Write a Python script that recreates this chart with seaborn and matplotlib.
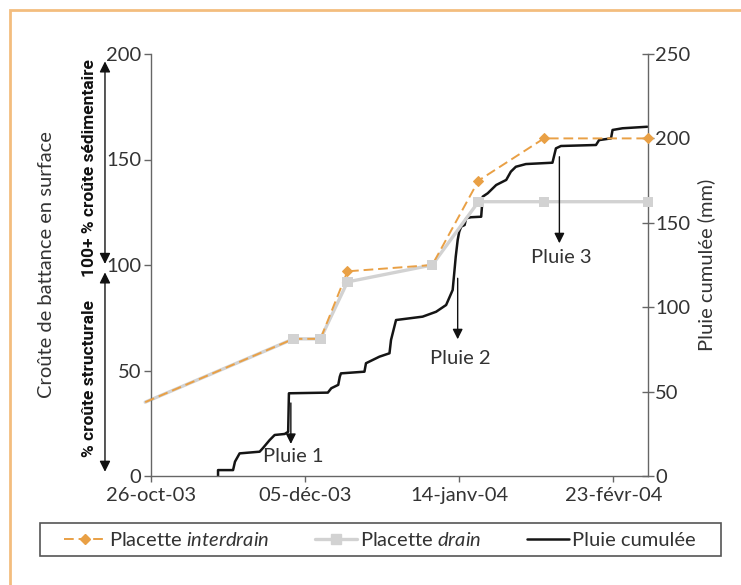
import matplotlib
matplotlib.use("Agg")
import matplotlib.pyplot as plt
import pandas as pd
import seaborn as sns
from matplotlib.lines import Line2D
from matplotlib.patches import Rectangle

# %% DATA (x in days counted from 26-oct-03)
plot_days = [-1.5, 37, 44, 51, 73, 85, 102, 129]
interdrain = [35, 65, 65, 97, 100, 140, 160, 160]
drain = [35, 65, 65, 92, 100, 130, 130, 130]

rain_days = [17.4, 17.4, 21.3, 21.8, 23.0, 28.2, 29.0, 30.8, 32.1, 34.7, 35.6, 35.8,
             45.9, 46.8, 48.6, 49.0, 49.3, 55.4, 55.8, 59.3, 61.9, 62.3, 63.6, 70.5,
             74.0, 76.6, 77.5, 78.3, 78.7, 79.1, 79.6, 80.0, 80.5, 81.4, 81.8, 83.1,
             85.7, 86.1, 87.4, 88.7, 89.6, 92.2, 93.4, 94.7, 97.3, 104.2, 105.1, 106.4,
             115.5, 116.3, 119.4, 119.8, 122.4, 128.8]
rain_mm = [0, 3.5, 3.5, 8.5, 13.4, 14.4, 16.4, 21.3, 24.3, 24.9, 26.2, 49.0,
           49.4, 52.0, 54.0, 58.8, 60.8, 61.8, 66.8, 70.7, 72.7, 80.6, 92.4, 94.4,
           97.3, 101.3, 106.0, 110.2, 120.0, 130.0, 139.8, 144.7, 147.7, 148.7, 152.7, 153.3,
           153.6, 165.5, 167.5, 170.4, 172.4, 175.4, 180.3, 183.2, 184.8, 185.6, 194.1, 195.5,
           196.1, 199.0, 200.0, 205.0, 206.0, 206.9]

tick_days = [0, 40, 80, 120]
tick_labels = ["26-oct-03", "05-déc-03", "14-janv-04", "23-févr-04"]

pluie_labels = ["Pluie 1", "Pluie 2", "Pluie 3"]
pluie_days = [36.3, 79.6, 106.0]

plots = pd.DataFrame({"day": plot_days, "interdrain": interdrain, "drain": drain})
rain = pd.DataFrame({"day": rain_days, "mm": rain_mm})

# %% STYLE
sns.set_style("white")
plt.rcParams["font.family"] = ["Lato", "DejaVu Sans"]
plt.rcParams["mathtext.fontset"] = "custom"
plt.rcParams["mathtext.it"] = "Lato:italic"
plt.rcParams["mathtext.rm"] = "Lato"

ORANGE = "#E9A045"
GREY = "#D2D2D2"
TXT = "#333333"
SPINE = "#666666"
FS = 14.5

fig = plt.figure(figsize=(7.41, 5.85), dpi=100)
ax = fig.add_axes([151 / 741, 1 - 476 / 585, 497 / 741, 422 / 585])
ax2 = ax.twinx()
ax.set_zorder(ax2.get_zorder() + 1)
ax.patch.set_visible(False)

# rain on the right axis
sns.lineplot(data=rain, x="day", y="mm", ax=ax2, color="#151515", lw=1.8,
             sort=False, estimator=None)

# plots on the left axis
sns.lineplot(data=plots, x="day", y="drain", ax=ax, color=GREY, lw=2.4,
             sort=False, estimator=None, clip_on=False, zorder=2)
sns.lineplot(data=plots, x="day", y="interdrain", ax=ax, color=ORANGE, lw=1.4,
             linestyle=(0, (5, 2.5)), marker="D", markersize=5.5, markevery=[3, 5, 6, 7],
             markeredgecolor=ORANGE, sort=False, estimator=None, clip_on=False, zorder=3)
sns.scatterplot(data=plots.iloc[1:], x="day", y="drain", ax=ax, color=GREY, marker="s",
                s=55, edgecolor="none", zorder=4, clip_on=False)

ax.set_xlim(0, 129)
ax.set_ylim(0, 200)
ax2.set_ylim(0, 250)
ax.set_xticks(tick_days)
ax.set_xticklabels(tick_labels)
ax.set_yticks(range(0, 201, 50))
ax2.set_yticks(range(0, 251, 50))

for a in (ax, ax2):
    for s in a.spines.values():
        s.set_color(SPINE)
        s.set_linewidth(1.0)
    a.spines["top"].set_visible(False)
ax.spines["right"].set_visible(False)
ax2.spines["left"].set_visible(False)
ax2.spines["bottom"].set_visible(False)

ax.tick_params(axis="y", direction="out", length=5, width=1, color=SPINE, pad=2,
               labelsize=FS, labelcolor=TXT, left=True)
ax.tick_params(axis="x", direction="out", length=4, width=1, color=SPINE, pad=4,
               labelsize=FS, labelcolor=TXT, bottom=True)
ax2.tick_params(axis="y", direction="inout", length=8, width=1, color=SPINE, pad=1,
                labelsize=FS, labelcolor=TXT, right=True)

ax.set_xlabel("")
ax.set_ylabel("Croûte de battance en surface", fontsize=FS, color=TXT)
ax.yaxis.set_label_coords(-0.193, 0.5)
ax2.set_ylabel("Pluie cumulée (mm)", fontsize=FS, color=TXT)
ax2.yaxis.set_label_coords(1.10, 0.5)

# rain event arrows (left-axis units)
arrow_spans = [(34.6, 15.2, 9.1), (93.7, 64.8, 55.8), (151.3, 110.3, 103.6)]
for lab, d, (y0, y1, yt) in zip(pluie_labels, pluie_days, arrow_spans):
    ax.annotate("", xy=(d, y1), xytext=(d, y0),
                arrowprops=dict(arrowstyle="-|>", color="#111111", lw=1.0,
                                mutation_scale=15, shrinkA=0, shrinkB=0), zorder=5)
    ax.text(d + 0.6, yt, lab, ha="center", va="center", fontsize=FS, color=TXT, zorder=5)

# crust type arrows left of the axis
tr = ax.get_yaxis_transform()
arrow_kw = dict(arrowstyle="<|-|>", color="#111111", lw=1.0, mutation_scale=16,
                shrinkA=0, shrinkB=0)
ax.annotate("", xy=(-0.0926, 196.5), xytext=(-0.0926, 100.5), xycoords=tr, textcoords=tr,
            arrowprops=arrow_kw, annotation_clip=False)
ax.annotate("", xy=(-0.0926, 2.0), xytext=(-0.0926, 96.5), xycoords=tr, textcoords=tr,
            arrowprops=arrow_kw, annotation_clip=False)
crust_font = dict(family=["Liberation Sans Narrow", "Roboto", "DejaVu Sans"],
                  fontsize=12.5, fontweight="bold", color="#111111")
ax.text(-0.123, 146, "100+ % croûte sédimentaire", transform=tr, rotation=90,
        ha="center", va="center", **crust_font)
ax.text(-0.123, 46, "% croûte structurale", transform=tr, rotation=90,
        ha="center", va="center", **crust_font)

# legend (frame drawn separately)
handles = [
    Line2D([0, 0.5, 1], [0, 0, 0], color=ORANGE, lw=1.4, linestyle=(0, (5, 2.5)),
           marker="D", markersize=5.5, markevery=[1], markeredgecolor=ORANGE),
    Line2D([0, 0.5, 1], [0, 0, 0], color=GREY, lw=2.4, marker="s", markersize=7,
           markevery=[1]),
    Line2D([0, 0.5, 1], [0, 0, 0], color="#151515", lw=1.8),
]
labels = [r"Placette $\mathit{interdrain}$", r"Placette $\mathit{drain}$", "Pluie cumulée"]
leg = fig.legend(handles, labels, loc="center left", ncol=3,
                 bbox_to_anchor=(64 / 741, 1 - 540 / 585),
                 fontsize=FS, frameon=False, handlelength=2.1,
                 handletextpad=0.15, columnspacing=2.25, borderaxespad=0, borderpad=0)
for t in leg.get_texts():
    t.set_color(TXT)
fig.patches.append(Rectangle((40 / 741, 1 - 556 / 585), 681 / 741, 33 / 585,
                             transform=fig.transFigure, fill=False, edgecolor="#555555",
                             lw=1.2))

# orange outer frame
fig.patches.append(Rectangle((10 / 741, -0.1), 1.0, 1.1 - 10 / 585, transform=fig.transFigure,
                             fill=False, edgecolor="#F3BD7E", lw=2, zorder=0))

fig.savefig("out.png", dpi=100)
